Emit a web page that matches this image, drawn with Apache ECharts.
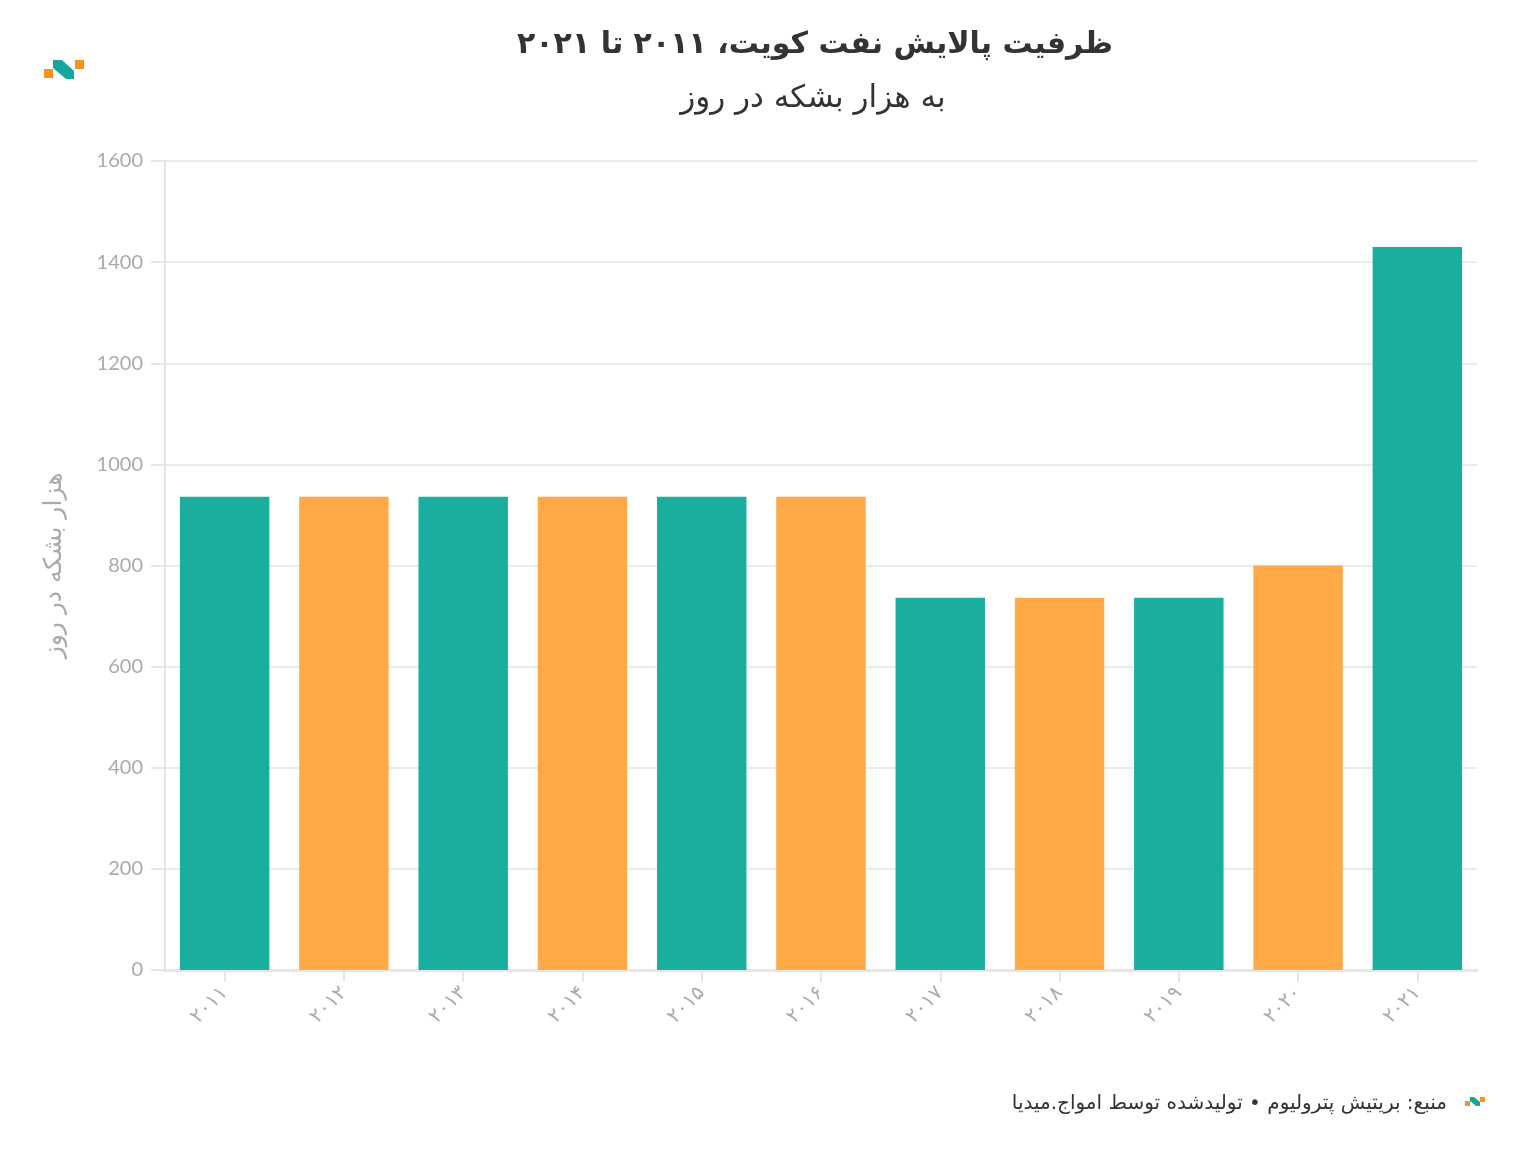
<!DOCTYPE html>
<html><head><meta charset="utf-8">
<script src="https://cdn.jsdelivr.net/npm/echarts@6/dist/echarts.min.js"></script>
<style>html,body{margin:0;padding:0;background:#fff}#c{width:1516px;height:1150px}</style>
</head><body><div id="c"></div>
<script>
const categories = ['۲۰۱۱','۲۰۱۲','۲۰۱۳','۲۰۱۴','۲۰۱۵','۲۰۱۶','۲۰۱۷','۲۰۱۸','۲۰۱۹','۲۰۲۰','۲۰۲۱'];
const values = [936, 936, 936, 936, 936, 936, 736, 736, 736, 800, 1430];
const barColors = ['#1aae9f', '#ffa947'];
const yTicks = { min: 0, max: 1600, interval: 200 };
const titleText = 'ظرفیت پالایش نفت کویت، ۲۰۱۱ تا ۲۰۲۱';
const subtitleText = 'به هزار بشکه در روز';
const yAxisName = 'هزار بشکه در روز';
const sourceText = 'منبع: بریتیش پترولیوم • تولیدشده توسط امواج.میدیا';

const chart = echarts.init(document.getElementById('c'));
const persian = '"DejaVu Sans", sans-serif';
chart.setOption({
  animation: false,
  backgroundColor: '#fff',
  title: [
    { text: titleText, left: 810, top: 25, textAlign: 'center',
      textStyle: { fontFamily: persian, fontWeight: 'bold', fontSize: 30, color: '#333' } },
    { text: subtitleText, left: 808, top: 78, textAlign: 'center',
      textStyle: { fontFamily: persian, fontWeight: 'normal', fontSize: 31, color: '#333' } }
  ],
  grid: { left: 165, right: 39, top: 161, bottom: 180, containLabel: false },
  xAxis: {
    type: 'category', data: categories,
    axisLine: { show: true, lineStyle: { color: '#e6e6e6', width: 3 } },
    axisTick: { show: true, alignWithLabel: true, length: 12, lineStyle: { color: '#e6e6e6', width: 2 } },
    axisLabel: { rotate: 45, color: '#aaa', fontSize: 20, fontFamily: persian, margin: 20 }
  },
  yAxis: {
    type: 'value', min: yTicks.min, max: yTicks.max, interval: yTicks.interval,
    name: yAxisName, nameLocation: 'middle', nameGap: 98, nameRotate: 90,
    nameTextStyle: { color: '#aaa', fontSize: 25, fontFamily: persian },
    axisLine: { show: true, lineStyle: { color: '#e6e6e6', width: 2 } },
    axisTick: { show: true, length: 14, lineStyle: { color: '#e6e6e6', width: 2 } },
    axisLabel: { color: '#aaa', fontSize: 20, fontFamily: 'Lato, sans-serif', margin: 22,
      formatter: v => String(v) },
    splitLine: { show: true, lineStyle: { color: '#ebebeb', width: 2 } }
  },
  series: [{
    type: 'bar', barCategoryGap: '25%',
    data: values.map((v, i) => ({ value: v, itemStyle: { color: barColors[i % 2] } }))
  }],
  graphic: [
    { type: 'rect', shape: { x: 44, y: 69, width: 9, height: 9 }, style: { fill: '#f7941d' } },
    { type: 'rect', shape: { x: 75, y: 60, width: 9, height: 9 }, style: { fill: '#f7941d' } },
    { type: 'polygon', shape: { points: [[53,60],[62,60],[74,71],[74,79],[66,79],[53,68]] }, style: { fill: '#13a89e' } },
    { type: 'text', style: { text: sourceText, x: 1447, y: 1104, align: 'right', verticalAlign: 'middle',
        font: '20px "DejaVu Sans", sans-serif', fill: '#333' } },
    { type: 'rect', shape: { x: 1465, y: 1101, width: 5, height: 5 }, style: { fill: '#f7941d' } },
    { type: 'rect', shape: { x: 1480, y: 1097, width: 5, height: 5 }, style: { fill: '#f7941d' } },
    { type: 'polygon', shape: { points: [[1470,1097],[1474,1097],[1480,1102],[1480,1106],[1476,1106],[1470,1101]] }, style: { fill: '#13a89e' } }
  ]
});
</script></body></html>
